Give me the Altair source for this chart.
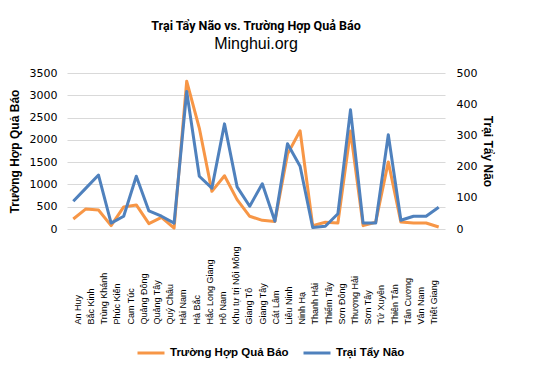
import altair as alt
import pandas as pd

labels = ["An Huy", "Bắc Kinh", "Trùng Khánh", "Phúc Kiến", "Cam Túc", "Quảng Đông",
          "Quảng Tây", "Quý Châu", "Hải Nam", "Hà Bắc", "Hắc Long Giang", "Hồ Nam",
          "Khu tự trị Nội Mông", "Giang Tô", "Giang Tây", "Cát Lâm", "Liêu Ninh", "Ninh Hạ",
          "Thanh Hải", "Thiểm Tây", "Sơn Đông", "Thượng Hải", "Sơn Tây", "Tứ Xuyên",
          "Thiên Tân", "Tân Cương", "Vân Nam", "Triết Giang"]

point_no = list(range(1, 31))
qua_bao = [225, 450, 425, 75, 495, 540, 120, 260, 20, 3315, 2265, 845, 1195, 660, 285,
           195, 170, 1680, 2205, 75, 150, 135, 2200, 75, 150, 1505, 155, 135, 135, 45]
tay_nao = [89, 131, 173, 19, 41, 169, 58, 41, 19, 441, 169, 131, 337, 135, 73,
           145, 25, 273, 201, 5, 9, 49, 382, 19, 19, 302, 28, 41, 41, 70]

S1 = "Trường Hợp Quả Báo"
S2 = "Trại Tẩy Não"
ORANGE = "#F79646"
BLUE = "#4F81BD"

df = pd.DataFrame({"n": point_no, "qb": qua_bao, "tn": tay_nao})
lab_df = pd.DataFrame({"label": labels})

x_line = alt.X("n:Q", scale=alt.Scale(domain=[0.5, 30.5], nice=False, zero=False), axis=None)
color_scale = alt.Scale(domain=[S1, S2], range=[ORANGE, BLUE])
legend = alt.Legend(orient="none", legendX=69, legendY=265, direction="horizontal", title=None,
                    symbolType="stroke", symbolStrokeWidth=3, symbolSize=729,
                    labelFontSize=11.5, labelFont="Liberation Sans", labelFontWeight="bold",
                    labelColor="#000", columnPadding=8, labelOffset=4)
color_enc = alt.Color("series:N", scale=color_scale, legend=legend)

orange = alt.Chart(df).transform_calculate(series=f"'{S1}'").mark_line(
    strokeWidth=3, strokeJoin="round").encode(
    x=x_line,
    y=alt.Y("qb:Q", scale=alt.Scale(domain=[0, 3500], nice=False),
            axis=alt.Axis(title=S1, values=list(range(0, 3501, 500)), format="d", grid=True,
                          gridColor="#d9d9d9", domain=False, ticks=False, labelPadding=10,
                          labelFont="DejaVu Sans", labelFontSize=11, labelColor="#000",
                          titleFont="Liberation Sans", titleFontSize=12, titleFontWeight="bold",
                          titleColor="#000", titlePadding=8)),
    color=color_enc,
)

blue = alt.Chart(df).transform_calculate(series=f"'{S2}'").mark_line(
    strokeWidth=3, strokeJoin="round").encode(
    x=x_line,
    y=alt.Y("tn:Q", scale=alt.Scale(domain=[0, 500], nice=False),
            axis=alt.Axis(title=S2, orient="right", values=list(range(0, 501, 100)), format="d",
                          grid=False, domain=False, ticks=False, labelPadding=11,
                          labelFont="DejaVu Sans", labelFontSize=11, labelColor="#000",
                          titleFont="Liberation Sans", titleFontSize=12, titleFontWeight="bold",
                          titleColor="#000", titlePadding=4)),
    color=color_enc,
)

xlab = alt.Chart(lab_df).mark_rule(opacity=0).encode(
    x=alt.X("label:N", sort=labels, scale=alt.Scale(padding=0.65),
            axis=alt.Axis(title=None, labelAngle=-90, labelAlign="left", labelBaseline="middle",
                          labelPadding=95, domain=False, ticks=False, labelFont="Liberation Sans",
                          labelFontSize=9, labelColor="#000", labelOverlap=False)),
)

chart = alt.layer(orange, blue, xlab).resolve_scale(x="independent", y="independent").properties(
    width=378, height=156,
    title=alt.Title(text="Trại Tẩy Não vs. Trường Hợp Quả Báo", subtitle="Minghui.org",
                    anchor="middle", font="Roboto", fontSize=12.5, fontWeight="bold", color="#000",
                    subtitleFont="Liberation Sans", subtitleFontSize=16, subtitleColor="#000",
                    subtitlePadding=4, offset=15),
    autosize=alt.AutoSizeParams(type="none"),
    padding={"left": 59, "top": 65, "right": 84, "bottom": 134},
).configure_view(stroke=None)

chart.save("out.html", embed_options={"renderer": "svg", "actions": False})
